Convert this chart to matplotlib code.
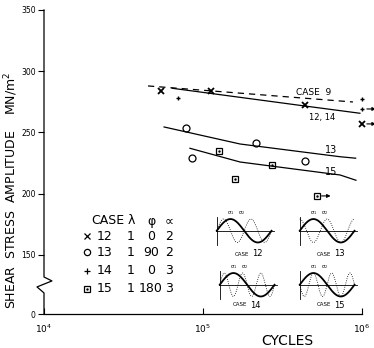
import matplotlib.pyplot as plt
import matplotlib.transforms as mtransforms
import numpy as np

plt.rcParams['font.family'] = 'DejaVu Sans'

# Test results (cycles, shear stress amplitude in MN/m^2)
case12_cycles = [5.44e4, 1.12e5, 4.38e5]
case12_stress = [284.0, 283.5, 272.4]
case12_runout_cycles = [1.0e6]
case12_runout_stress = [257.0]

case13_cycles = [7.8e4, 8.5e4, 2.14e5, 4.38e5]
case13_stress = [253.4, 228.9, 241.7, 227.0]

case14_cycles = [6.93e4, 1.0e6]
case14_stress = [277.9, 277.1]
case14_runout_cycles = [1.0e6]
case14_runout_stress = [269.2]

case15_cycles = [1.26e5, 1.58e5, 2.72e5]
case15_stress = [234.7, 211.8, 223.5]
case15_runout_cycles = [5.19e5]
case15_runout_stress = [198.2]

# Mean curves drawn through the results
curve_12_14_cycles = [6.4e4, 4.38e5, 9.7e5]
curve_12_14_stress = [286.1, 271.6, 265.7]
curve_13_cycles = [5.69e4, 1.71e5, 7.28e5, 9.12e5]
curve_13_stress = [254.5, 240.6, 230.2, 229.0]
curve_15_cycles = [8.28e4, 1.71e5, 7.28e5, 9.16e5]
curve_15_stress = [237.1, 225.9, 215.3, 211.0]
case9_cycles = [4.51e4, 8.77e5]
case9_stress = [288.0, 274.9]

# Table of loading cases
table_header = ['CASE', 'λ', 'φ', '∝']
table_cases = ['12', '13', '14', '15']
table_lambda = ['1', '1', '1', '1']
table_phi = ['0', '90', '0', '180']
table_alpha = ['2', '2', '3', '3']
table_markers = ['x', 'o', '+', 's']

# Waveform sketches: phase (deg) and frequency ratio of the second stress
inset_cases = ['12', '13', '14', '15']
inset_phi = [0, 90, 0, 180]
inset_alpha = [2, 2, 3, 3]

y_ticks = [150, 200, 250, 300, 350]
y_floor = 101.8  # bottom of the broken axis, labelled 0

W, H = 374, 348


def px(x, y):
    return x / W, 1 - y / H


fig = plt.figure(figsize=(W / 100, H / 100), dpi=100)
ax = fig.add_axes([44 / W, 1 - 314 / H, 318 / W, 304 / H])
ax.set_xscale('log')
ax.set_xlim(1e4, 1e6)
ax.set_ylim(y_floor, 350)

for s in ['top', 'right', 'left']:
    ax.spines[s].set_visible(False)
ax.spines['bottom'].set_linewidth(0.9)

# left axis with a zig-zag break
btrans = mtransforms.blended_transform_factory(ax.transAxes, ax.transData)
ax.plot([0, 0, 0.025, -0.022, 0, 0], [350, 132, 128.8, 123.9, 119, y_floor],
        color='k', lw=0.9, transform=btrans, clip_on=False)

ax.set_yticks([y_floor] + y_ticks)
ax.set_yticklabels(['0'] + [str(t) for t in y_ticks])
ax.set_xticks([1e4, 1e5, 1e6])
ax.set_xticklabels([r'$\mathregular{10^4}$', r'$\mathregular{10^5}$', r'$\mathregular{10^6}$'])
ax.minorticks_off()
ax.tick_params(axis='y', direction='out', length=4, width=0.8, labelsize=5.5, pad=2)
ax.tick_params(axis='x', direction='in', length=4, width=0.8, labelsize=6.5, pad=6)

# curves
ax.plot(curve_12_14_cycles, curve_12_14_stress, color='k', lw=0.9)
ax.plot(curve_13_cycles, curve_13_stress, color='k', lw=0.9)
ax.plot(curve_15_cycles, curve_15_stress, color='k', lw=0.9)
ax.plot(case9_cycles, case9_stress, color='k', lw=0.9, linestyle=(0, (5, 4)))

# points
mk = dict(color='k', linestyle='none', clip_on=False)
ax.plot(case12_cycles + case12_runout_cycles, case12_stress + case12_runout_stress,
        marker='x', ms=4.5, mew=1.3, **mk)
ax.plot(case13_cycles, case13_stress, marker='o', ms=5, mfc='none', mew=0.9, **mk)
ax.plot(case14_cycles + case14_runout_cycles, case14_stress + case14_runout_stress,
        marker='+', ms=3.5, mew=1.0, **mk)
ax.plot(case15_cycles + case15_runout_cycles, case15_stress + case15_runout_stress,
        marker='s', ms=5, mfc='none', mew=0.9, **mk)
ax.plot(case15_cycles + case15_runout_cycles, case15_stress + case15_runout_stress,
        marker='.', ms=1.5, **mk)

# run-out arrows
head = mtransforms.offset_copy(ax.transData, fig=fig, x=10, y=0, units='points')
tail = mtransforms.offset_copy(ax.transData, fig=fig, x=3.5, y=0, units='points')
for n, s in zip(case12_runout_cycles + case14_runout_cycles + case15_runout_cycles,
                case12_runout_stress + case14_runout_stress + case15_runout_stress):
    ax.annotate('', xy=(n, s), xycoords=head, xytext=(n, s), textcoords=tail,
                arrowprops=dict(arrowstyle='-|>', lw=0.8, color='k', mutation_scale=5,
                                shrinkA=0, shrinkB=0),
                annotation_clip=False)

# curve labels
fig.text(*px(314, 93), 'CASE  9', fontsize=6.5, ha='center', va='center')
fig.text(*px(322, 117), '12, 14', fontsize=6, ha='center', va='center')
fig.text(*px(331, 150), '13', fontsize=7, ha='center', va='center')
fig.text(*px(331, 172), '15', fontsize=7, ha='center', va='center')

# axis labels
fig.text(*px(11, 190), 'SHEAR  STRESS  AMPLITUDE    MN/m$^2$', rotation=90,
         fontsize=9, ha='center', va='center')
fig.text(*px(287, 341), 'CYCLES', fontsize=10, ha='center', va='center')

# table
col_x = [105, 131, 151, 169]
fig.text(*px(108, 221), table_header[0], fontsize=9, ha='center', va='center')
for cx, h in zip(col_x[1:], table_header[1:]):
    fig.text(*px(cx, 221), h, fontsize=9, ha='center', va='center')
row_y = [236, 252, 271, 289]
for ry, c, lam, phi, alp, m in zip(row_y, table_cases, table_lambda, table_phi,
                                    table_alpha, table_markers):
    mx, my = px(87, ry)
    ax.plot([mx], [my], marker=m, ms=4.5 if m != '+' else 4, mfc='none', mew=0.9,
            color='k', transform=fig.transFigure, clip_on=False)
    if m == 's':
        ax.plot([mx], [my], marker='.', ms=1.5, color='k',
                transform=fig.transFigure, clip_on=False)
    for cx, v in zip(col_x, [c, lam, phi, alp]):
        fig.text(*px(cx, ry), v, fontsize=9, ha='center', va='center')

# waveform sketches
inset_boxes = [(215, 212), (298, 212), (218, 266), (298, 266)]
label_pos = [(250, 254), (332, 254), (248, 305), (332, 305)]
t = np.linspace(0, 2 * np.pi, 200)
for (bx, by), (lx, ly), c, ph, a in zip(inset_boxes, label_pos, inset_cases,
                                        inset_phi, inset_alpha):
    l, b = px(bx, by + 34)
    iax = fig.add_axes([l, b, 60 / W, 34 / H])
    iax.axis('off')
    iax.set_xlim(-0.2, 2 * np.pi + 0.4)
    iax.set_ylim(-1.3, 1.6)
    iax.plot([-0.1, 2 * np.pi + 0.3], [0, 0], color='k', lw=0.6)
    iax.plot([0, 0], [-1.2, 1.2], color='k', lw=0.6)
    iax.plot(t, np.sin(t), color='k', lw=1.3)
    iax.plot(t, np.sin(a * t + np.radians(ph)), color='k', lw=0.6, linestyle=':')
    iax.text(np.pi / 2, 1.15, 'σ$_1$', fontsize=3.5, ha='center', va='bottom')
    iax.text(np.pi / 2 + 1.3, 1.15, 'σ$_2$', fontsize=3.5, ha='center', va='bottom')
    fig.text(*px(lx - 8, ly), 'CASE', fontsize=4, ha='center', va='center')
    fig.text(*px(lx + 7, ly), c, fontsize=6, ha='center', va='center')

fig.savefig('out.png', dpi=100)
